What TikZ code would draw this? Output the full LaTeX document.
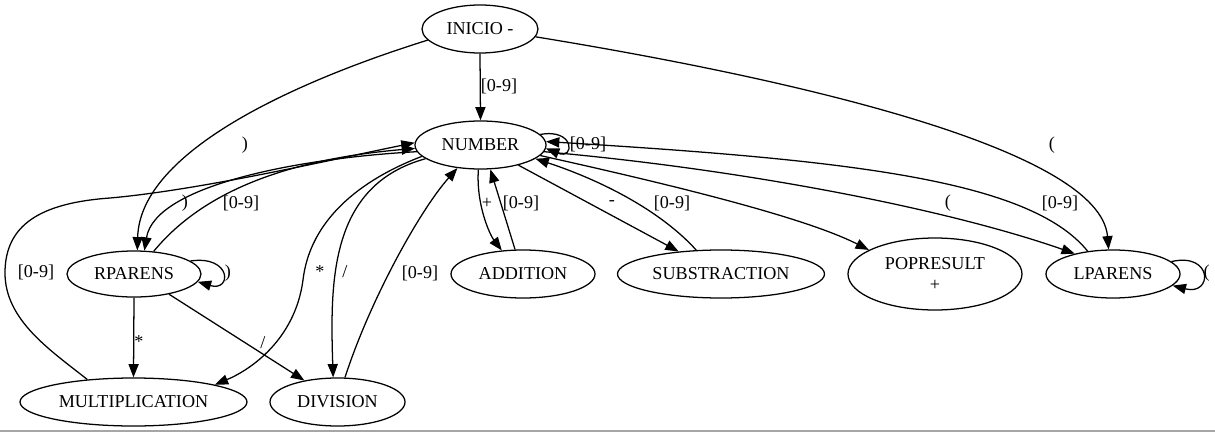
\documentclass[tikz,border=0pt]{standalone}
\usepackage{fontspec}
\setmainfont{Liberation Serif}
\usetikzlibrary{shapes.geometric,arrows.meta}
\begin{document}
\begin{tikzpicture}[x=0.75pt,y=-0.75pt,line width=0.95pt,
  >={Triangle[length=10pt,width=7.6pt]},
  every node/.style={font=\fontsize{13.6}{15.8}\selectfont},
  st/.style 2 args={ellipse,draw,minimum width=#1*0.75pt,minimum height=#2*0.75pt,inner sep=0pt,align=center},
  lbl/.style={inner sep=0pt}]
\useasboundingbox (0,0) rectangle (1215,432);
% nodes
\node[st={116}{48}] (in) at (480,29) {INICIO -};
\node[st={131}{48}] (nu) at (480.5,145) {NUMBER};
\node[st={134}{46}] (rp) at (134,274) {RPARENS};
\node[st={227}{48}] (mu) at (133.5,402) {MULTIPLICATION};
\node[st={135}{48}] (dv) at (337.5,402) {DIVISION};
\node[st={144}{48}] (ad) at (523,274) {ADDITION};
\node[st={207}{48}] (sb) at (721,274) {SUBSTRACTION};
\node[st={174}{72}] (po) at (935,274) {POPRESULT\\+};
\node[st={134}{48}] (lp) at (1113,274) {LPARENS};
% edges
\draw[->] (in.south) -- (nu.north);
\draw[->] (in.192) .. controls (300,80) and (140,150) .. (rp.82);
\draw[->] (in.-8) .. controls (800,80) and (1100,150) .. (lp.100);
\draw[->] (nu.10) .. controls (575,128) and (575,160) .. (nu.-3);
\draw[->] (nu.186) .. controls (300,158) and (155,185) .. (rp.66);
\draw[->] (rp.49) .. controls (200,195) and (280,160) .. (nu.183);
\draw[->] (mu.154) .. controls (50,350) and (5,320) .. (5,273)
   .. controls (5,225) and (40,203) .. (110,198)
   .. controls (200,190) and (330,160) .. (nu.178);
\draw[->] (rp.13) .. controls (232,255) and (232,292) .. (rp.-7);
\draw[->] (rp.south) -- (mu.north);
\draw[->] (rp.-30) -- (dv.147);
\draw[->] (nu.191) .. controls (360,180) and (310,220) .. (303,280)
   .. controls (295,340) and (250,370) .. (mu.12);
\draw[->] (nu.194) .. controls (330,185) and (330,280) .. (dv.100);
\draw[->] (dv.73) .. controls (370,300) and (420,210) .. (nu.225);
\draw[->] (nu.-95) .. controls (476,205) and (490,235) .. (ad.132);
\draw[->] (ad.108) -- (nu.-68);
\draw[->] (nu.-28) -- (sb.152);
\draw[->] (sb.136) .. controls (660,210) and (600,180) .. (nu.-14);
\draw[->] (nu.-10) .. controls (650,180) and (800,215) .. (po.160);
\draw[->] (nu.-6) .. controls (750,170) and (950,210) .. (lp.152);
\draw[->] (lp.138) .. controls (1030,180) and (850,160) .. (nu.3);
\draw[->] (lp.12) .. controls (1213,252) and (1213,296) .. (lp.-11);
% labels
\node[lbl] (l1) at (499,86) {[0-9]};
\node[lbl] (l2) at (245,145) {)};
\node[lbl] (l3) at (1052,145) {(};
\node[lbl] (l4) at (588,144) {[0-9]};
\node[lbl] (l5) at (185,203) {)};
\node[lbl] (l6) at (241,203) {[0-9]};
\node[lbl] (l7) at (36,272) {[0-9]};
\node[lbl] (l8) at (228,273) {)};
\node[lbl] (l9) at (139,342) {*};
\node[lbl] (l10) at (263,343) {/};
\node[lbl] (l11) at (320,272) {*};
\node[lbl] (l12) at (345,272) {/};
\node[lbl] (l13) at (420,273) {[0-9]};
\node[lbl] (l14) at (487,203) {+};
\node[lbl] (l15) at (521,203) {[0-9]};
\node[lbl] (l16) at (612,203) {-};
\node[lbl] (l17) at (672,203) {[0-9]};
\node[lbl] (l18) at (948,203) {(};
\node[lbl] (l19) at (1060,203) {[0-9]};
\node[lbl,anchor=west] (l20) at (1203,273) {(};
\draw[gray!70,line width=1.2pt] (0,431) -- (1215,431);
\end{tikzpicture}
\end{document}
